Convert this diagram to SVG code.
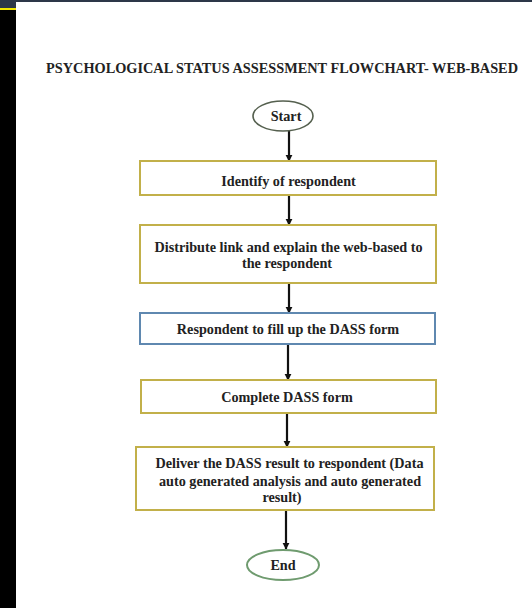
<svg xmlns="http://www.w3.org/2000/svg" width="532" height="608" viewBox="0 0 532 608">
<defs>
<style>
text{font-family:"Liberation Serif","Times New Roman",serif;font-weight:bold;font-size:14.2px;fill:#222;text-anchor:middle}
.title{font-size:14px}
.ybox{fill:#fff;stroke:#c2b04a;stroke-width:2}
.bbox{fill:#fff;stroke:#5f88b0;stroke-width:2}
.conn{stroke:#111;stroke-width:2.2;fill:none;marker-end:url(#ah)}
</style>
<marker id="ah" viewBox="0 0 10 10" refX="9" refY="5" markerWidth="3.2" markerHeight="3.2" orient="auto" markerUnits="strokeWidth">
<path d="M0,0 L10,5 L0,10 z" fill="#111"/>
</marker>
</defs>
<rect width="532" height="608" fill="#fff"/>
<rect x="0" y="0" width="532" height="2" fill="#2d3748"/>
<rect x="0" y="0" width="16" height="608" fill="#000"/>
<rect x="0" y="0" width="16" height="8" fill="#2d3748"/>
<rect x="0" y="8" width="16" height="2" fill="#f2e600"/>
<text class="title" x="282" y="73" textLength="472" lengthAdjust="spacingAndGlyphs">PSYCHOLOGICAL STATUS ASSESSMENT FLOWCHART- WEB-BASED</text>
<g id="connectors">
<line class="conn" x1="289" y1="131" x2="289" y2="161"/>
<line class="conn" x1="289" y1="195" x2="289" y2="225"/>
<line class="conn" x1="289" y1="283" x2="289" y2="313"/>
<line class="conn" x1="288" y1="344" x2="288" y2="380"/>
<line class="conn" x1="287" y1="413" x2="287" y2="447"/>
<line class="conn" x1="286" y1="510" x2="286" y2="549"/>
</g>
<g id="start">
<ellipse cx="283" cy="116" rx="30" ry="15" fill="#fff" stroke="#55604f" stroke-width="1.6"/>
<text x="286" y="120.5">Start</text>
</g>
<g id="identify">
<rect class="ybox" x="140" y="161" width="296" height="34"/>
<text x="288.5" y="186">Identify of respondent</text>
</g>
<g id="distribute">
<rect class="ybox" x="140" y="225" width="296" height="58"/>
<text x="288.5" y="251.5">Distribute link and explain the web-based to</text>
<text x="287" y="267.5">the respondent</text>
</g>
<g id="fillup">
<rect class="bbox" x="140" y="313" width="295" height="31"/>
<text x="288" y="333.5">Respondent to fill up the DASS form</text>
</g>
<g id="complete">
<rect class="ybox" x="141" y="380" width="295" height="33"/>
<text x="287" y="402">Complete DASS form</text>
</g>
<g id="deliver">
<rect class="ybox" x="136" y="447" width="298" height="63"/>
<text x="289.5" y="467.5">Deliver the DASS result to respondent (Data</text>
<text x="290" y="485.5">auto generated analysis and auto generated</text>
<text x="282" y="501.5">result)</text>
</g>
<g id="end">
<ellipse cx="283" cy="565" rx="36" ry="15" fill="#fff" stroke="#6f9b6f" stroke-width="2"/>
<text x="283" y="570">End</text>
</g>
</svg>
